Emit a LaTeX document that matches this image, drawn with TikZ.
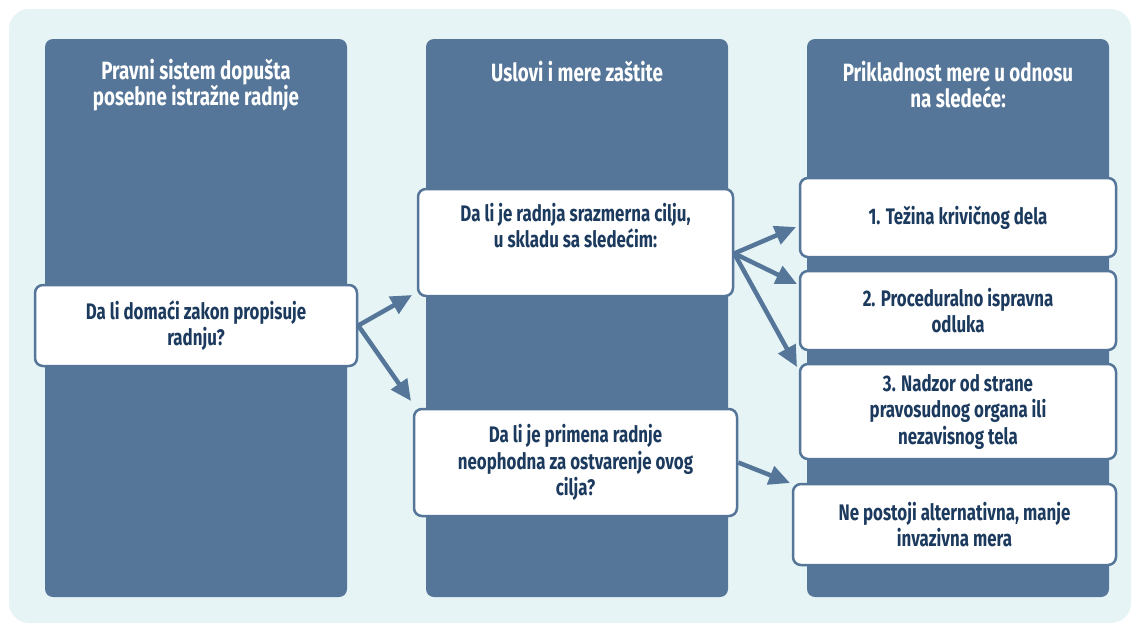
\documentclass[tikz,border=0pt]{standalone}
\usepackage{fontspec}
\setmainfont{Fira Sans}[FakeStretch=0.75]
\usetikzlibrary{arrows.meta,calc}
\definecolor{bgc}{HTML}{E6F4F6}
\definecolor{colc}{HTML}{557698}
\definecolor{txt}{HTML}{1B3A5E}
\begin{document}
\begin{tikzpicture}[x=1pt,y=-1pt,
  column/.style={fill=colc,rounded corners=8,inner sep=0,minimum width=302,minimum height=558},
  head/.style={text=white,font=\bfseries\fontsize{25}{26}\selectfont,align=center},
  box/.style={draw=colc,line width=2.5,fill=white,rounded corners=8,inner sep=0,
    text=txt,font=\bfseries\fontsize{22.5}{26.5}\selectfont,align=center},
  arr/.style={draw=colc,line width=4.5,-{Triangle[length=21,width=19]}}]
\useasboundingbox (0,0) rectangle (1132,624);
% background panel
\fill[bgc,rounded corners=20] (9,9) rectangle (1131,623);
% three columns
\node[column] (col1) at (196,318) {};
\node[column] (col2) at (577,318) {};
\node[column] (col3) at (958,318) {};
% column headings
\node[head] (h1) at (196,85) {Pravni sistem dopušta\\posebne istražne radnje};
\node[head] (h2) at (577,72) {Uslovi i mere zaštite};
\node[head] (h3) at (958,85) {Prikladnost mere u odnosu\\na sledeće:};
% question boxes
\node[box,minimum width=322,minimum height=81] (A) at (196,325.5) {Da li domaći zakon propisuje\\radnju?};
\node[box,minimum width=315,minimum height=107] (B) at (575.5,242.5) {Da li je radnja srazmerna cilju,\\u skladu sa sledećim:\\\strut};
\node[box,minimum width=323,minimum height=107] (C) at (575.5,462.5) {Da li je primena radnje\\neophodna za ostvarenje ovog\\cilja?};
\node[box,minimum width=316,minimum height=79] (R1) at (958,217.5) {1. Težina krivičnog dela};
\node[box,minimum width=316,minimum height=79] (R2) at (958,310.5) {2. Proceduralno ispravna\\odluka};
\node[box,minimum width=316,minimum height=95] (R3) at (958,411.5) {3. Nadzor od strane\\pravosudnog organa ili\\nezavisnog tela};
\node[box,minimum width=323,minimum height=81] (R4) at (954.5,524.5) {Ne postoji alternativna, manje\\invazivna mera};
% arrow tips
\coordinate (tB) at (412,295);
\coordinate (tC) at (411,401);
\coordinate (t1) at (796,227);
\coordinate (t2) at (797,284);
\coordinate (t3) at (797,367);
\coordinate (t4) at (790,483);
\coordinate (sB) at ($(B.south east)!0.4!(B.north east)$);
% connectors
\draw[arr] (A.east) -- (tB);
\draw[arr] (A.east) -- (tC);
\draw[arr] (sB) -- (t1);
\draw[arr] (sB) -- (t2);
\draw[arr] (sB) -- (t3);
\draw[arr] (C.east) -- (t4);
\end{tikzpicture}
\end{document}
